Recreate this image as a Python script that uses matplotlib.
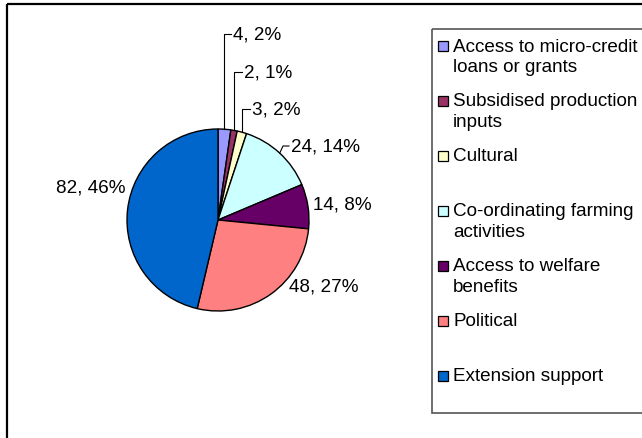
import numpy as np
import matplotlib
matplotlib.use("Agg")
import matplotlib.pyplot as plt
import matplotlib.patches as patches

# support reasons and number of respondents
categories = ["Access to micro-credit\nloans or grants",
              "Subsidised production\ninputs",
              "Cultural",
              "Co-ordinating farming\nactivities",
              "Access to welfare\nbenefits",
              "Political",
              "Extension support"]
counts = [4, 2, 3, 24, 14, 48, 82]
colors = ["#9999FF", "#993366", "#FFFFCC", "#CCFFFF", "#660066", "#FF8080", "#0066CC"]

W, H = 642, 439
plt.rcParams["font.family"] = ["Liberation Sans", "DejaVu Sans"]
FS = 13.6

fig = plt.figure(figsize=(W / 100, H / 100), dpi=100)
ax = fig.add_axes([0, 0, 1, 1])

# pie in pixel coords (y pointing down), starts at 12 o'clock going clockwise
cx, cy, r = 218, 221, 91
wedges, _ = ax.pie(counts, colors=colors, center=(cx, cy), radius=r,
                   startangle=-90, counterclock=True,
                   wedgeprops=dict(edgecolor="black", linewidth=1.0))
ax.set_xlim(0, W)
ax.set_ylim(H, 0)
ax.set_aspect("equal")
ax.axis("off")

total = sum(counts)
labels = [f"{c}, {round(100 * c / total)}%" for c in counts]

# label anchors (left edge x, centre y); leader style per label
label_pos = [(233, 35), (244, 73), (252, 110), (291, 147), (313, 205), (289, 287), (56, 188)]
leader = ["up", "up", "up", "diag", None, None, None]

for w, txt, (lx, ly), kind in zip(wedges, labels, label_pos, leader):
    t = np.deg2rad((w.theta1 + w.theta2) / 2)
    px, py = cx + r * np.cos(t), cy + r * np.sin(t)
    if kind == "up":
        ax.plot([px, px, lx - 2], [py, ly, ly], color="black", lw=0.8)
    elif kind == "diag":
        ax.plot([px, lx - 8, lx - 2], [py, ly, ly], color="black", lw=0.8)
    ax.text(lx, ly, txt, fontsize=FS, ha="left", va="center")

# outer chart border
ax.add_patch(patches.Rectangle((7, 5), W, H, fill=False, edgecolor="black",
                               linewidth=1.6, clip_on=False))

# legend box with fixed slots
ax.add_patch(patches.Rectangle((432, 30), 300, 384, fill=False, edgecolor="#555555",
                               linewidth=1.2))
for i, (lab, col) in enumerate(zip(categories, colors)):
    y0 = 47 + 55 * i
    ax.add_patch(patches.Rectangle((437.5, y0 - 5), 10, 10, facecolor=col,
                                   edgecolor="black", linewidth=0.9))
    for j, line in enumerate(lab.split("\n")):
        ax.text(453, y0 + 21 * j, line, fontsize=FS, ha="left", va="center")

fig.savefig("out.png", dpi=100)
